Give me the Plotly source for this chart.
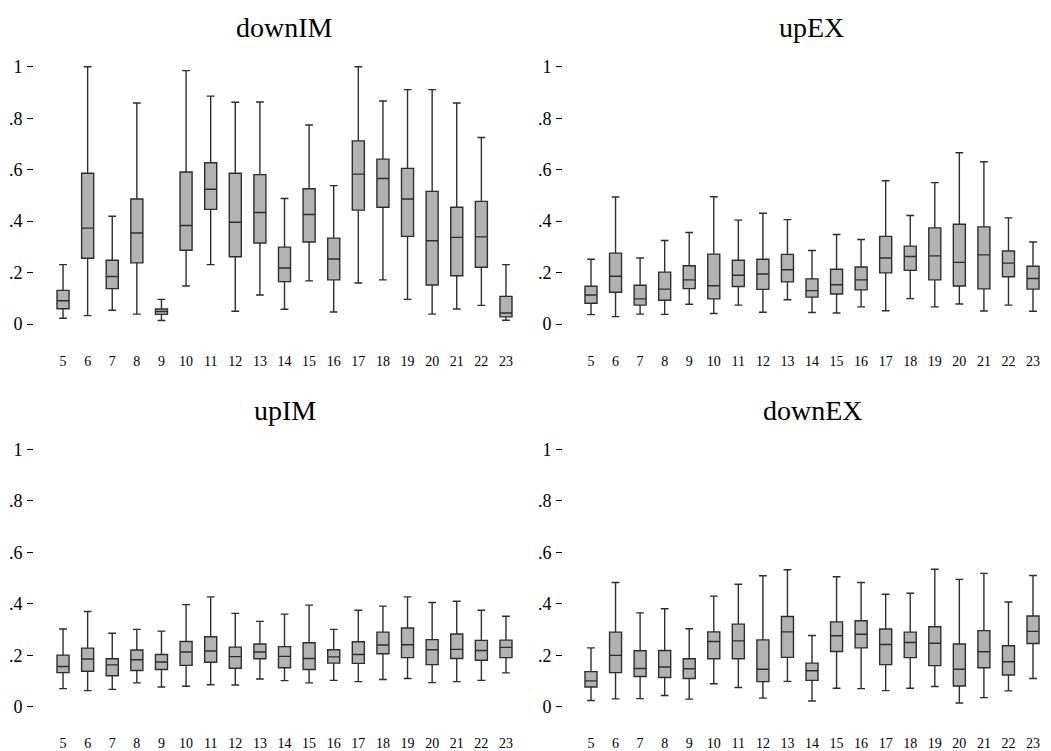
import plotly.graph_objects as go

categories = [5, 6, 7, 8, 9, 10, 11, 12, 13, 14, 15, 16, 17, 18, 19, 20, 21, 22, 23]
x_tick_labels = ["5", "6", "7", "8", "9", "10", "11", "12", "13", "14", "15",
                 "16", "17", "18", "19", "20", "21", "22", "23"]
y_tick_values = [0, 0.2, 0.4, 0.6, 0.8, 1]
y_tick_labels = ["0", ".2", ".4", ".6", ".8", "1"]

# downIM
downIM_lo = [0.023, 0.033, 0.054, 0.039, 0.014, 0.148, 0.231, 0.050, 0.113, 0.058,
             0.168, 0.047, 0.160, 0.172, 0.096, 0.039, 0.059, 0.073, 0.015]
downIM_q1 = [0.060, 0.256, 0.138, 0.238, 0.038, 0.287, 0.446, 0.262, 0.315, 0.165,
             0.319, 0.172, 0.443, 0.454, 0.341, 0.152, 0.188, 0.221, 0.028]
downIM_med = [0.091, 0.373, 0.185, 0.354, 0.049, 0.383, 0.524, 0.396, 0.434, 0.218,
              0.426, 0.253, 0.583, 0.566, 0.486, 0.324, 0.337, 0.339, 0.043]
downIM_q3 = [0.131, 0.586, 0.248, 0.486, 0.059, 0.591, 0.627, 0.586, 0.581, 0.299,
             0.526, 0.334, 0.712, 0.641, 0.605, 0.516, 0.454, 0.477, 0.108]
downIM_hi = [0.231, 1.000, 0.419, 0.859, 0.096, 0.985, 0.886, 0.862, 0.863, 0.488,
             0.774, 0.538, 1.000, 0.867, 0.911, 0.911, 0.859, 0.725, 0.231]

# upEX
upEX_lo = [0.037, 0.029, 0.039, 0.038, 0.077, 0.041, 0.074, 0.046, 0.095, 0.045,
           0.043, 0.067, 0.052, 0.099, 0.067, 0.078, 0.051, 0.074, 0.050]
upEX_q1 = [0.081, 0.124, 0.074, 0.093, 0.138, 0.098, 0.146, 0.135, 0.164, 0.105,
           0.117, 0.133, 0.199, 0.209, 0.172, 0.148, 0.137, 0.184, 0.136]
upEX_med = [0.113, 0.186, 0.098, 0.136, 0.172, 0.149, 0.190, 0.195, 0.211, 0.130,
            0.153, 0.172, 0.257, 0.263, 0.265, 0.240, 0.269, 0.237, 0.177]
upEX_q3 = [0.147, 0.276, 0.151, 0.202, 0.227, 0.272, 0.248, 0.252, 0.271, 0.176,
           0.213, 0.222, 0.341, 0.303, 0.374, 0.388, 0.378, 0.284, 0.225]
upEX_hi = [0.252, 0.494, 0.257, 0.325, 0.356, 0.495, 0.404, 0.431, 0.406, 0.286,
           0.348, 0.329, 0.557, 0.422, 0.550, 0.666, 0.631, 0.413, 0.319]

# upIM
upIM_lo = [0.071, 0.063, 0.068, 0.093, 0.077, 0.080, 0.086, 0.085, 0.108, 0.102,
           0.093, 0.103, 0.098, 0.106, 0.110, 0.094, 0.098, 0.103, 0.132]
upIM_q1 = [0.133, 0.138, 0.121, 0.141, 0.145, 0.161, 0.173, 0.150, 0.187, 0.152,
           0.145, 0.170, 0.169, 0.206, 0.191, 0.164, 0.188, 0.181, 0.191]
upIM_med = [0.157, 0.186, 0.163, 0.183, 0.174, 0.213, 0.217, 0.195, 0.213, 0.196,
            0.188, 0.194, 0.203, 0.240, 0.241, 0.222, 0.223, 0.219, 0.231]
upIM_q3 = [0.201, 0.228, 0.187, 0.221, 0.203, 0.254, 0.272, 0.232, 0.244, 0.234,
           0.249, 0.222, 0.253, 0.290, 0.306, 0.261, 0.283, 0.258, 0.259]
upIM_hi = [0.302, 0.370, 0.286, 0.301, 0.294, 0.397, 0.427, 0.363, 0.332, 0.360,
           0.395, 0.301, 0.375, 0.391, 0.427, 0.405, 0.410, 0.375, 0.352]

# downEX
downEX_lo = [0.025, 0.031, 0.032, 0.044, 0.030, 0.090, 0.075, 0.034, 0.099, 0.023,
             0.072, 0.071, 0.063, 0.072, 0.079, 0.015, 0.036, 0.062, 0.110]
downEX_q1 = [0.077, 0.133, 0.118, 0.114, 0.110, 0.187, 0.187, 0.098, 0.192, 0.103,
             0.215, 0.229, 0.164, 0.191, 0.160, 0.081, 0.152, 0.124, 0.246]
downEX_med = [0.101, 0.200, 0.149, 0.155, 0.148, 0.254, 0.256, 0.146, 0.291, 0.140,
              0.276, 0.282, 0.242, 0.250, 0.247, 0.146, 0.214, 0.175, 0.293]
downEX_q3 = [0.137, 0.290, 0.218, 0.219, 0.187, 0.291, 0.321, 0.260, 0.351, 0.170,
             0.330, 0.334, 0.302, 0.290, 0.311, 0.244, 0.296, 0.237, 0.353]
downEX_hi = [0.229, 0.483, 0.365, 0.381, 0.303, 0.430, 0.476, 0.509, 0.532, 0.277,
             0.505, 0.483, 0.437, 0.441, 0.534, 0.495, 0.518, 0.407, 0.510]

panel_titles = ["downIM", "upEX", "upIM", "downEX"]

W, H = 1051, 751
FONT = "Liberation Serif"

panels = [
    (downIM_lo, downIM_q1, downIM_med, downIM_q3, downIM_hi),
    (upEX_lo, upEX_q1, upEX_med, upEX_q3, upEX_hi),
    (upIM_lo, upIM_q1, upIM_med, upIM_q3, upIM_hi),
    (downEX_lo, downEX_q1, downEX_med, downEX_q3, downEX_hi),
]

# pixel geometry of plot areas (left, right) and (top, bottom)
x_px = [(34, 520), (563, 1048), (34, 520), (563, 1048)]
y_px = [(56.7, 346.1), (56.7, 346.1), (440.7, 730.4), (440.7, 730.4)]
x_ranges = [(3.82, 23.57), (3.86, 23.61), (3.82, 23.57), (3.86, 23.61)]
y_range = (-0.08, 1.04)
title_pos = [(284.5, 28), (811, 28), (285, 412), (812.5, 412)]

fig = go.Figure()
layout = dict(
    width=W, height=H,
    margin=dict(l=0, r=0, t=0, b=0),
    paper_bgcolor="white", plot_bgcolor="white",
    showlegend=False,
    font=dict(family=FONT, color="black"),
)
annotations = []
for i, (lo, q1, med, q3, hi) in enumerate(panels):
    n = "" if i == 0 else str(i + 1)
    fig.add_trace(go.Box(
        x=categories, q1=q1, median=med, q3=q3,
        lowerfence=lo, upperfence=hi,
        xaxis="x" + n, yaxis="y" + n,
        width=0.49, whiskerwidth=0.65,
        fillcolor="#b2b2b2",
        line=dict(color="#2e2e2e", width=1.4),
        boxpoints=False, showlegend=False,
    ))
    xl, xr = x_px[i]
    yt, yb = y_px[i]
    layout["xaxis" + n] = dict(
        domain=[xl / W, xr / W], range=list(x_ranges[i]),
        anchor="y" + n, tickmode="array", tickvals=categories,
        ticktext=x_tick_labels, showgrid=False, zeroline=False,
        showline=False, ticks="outside", ticklen=3,
        tickcolor="rgba(0,0,0,0)", tickfont=dict(family=FONT, size=14),
    )
    layout["yaxis" + n] = dict(
        domain=[1 - yb / H, 1 - yt / H], range=list(y_range),
        anchor="x" + n, tickmode="array", tickvals=y_tick_values,
        ticktext=y_tick_labels, showgrid=False, zeroline=False,
        showline=False, ticks="outside", ticklen=6, tickwidth=1,
        tickcolor="black", ticklabelstandoff=1,
        tickfont=dict(family=FONT, size=18),
    )
    tx, ty = title_pos[i]
    annotations.append(dict(
        text=panel_titles[i], x=tx / W, y=1 - ty / H, xref="paper", yref="paper",
        xanchor="center", yanchor="middle", showarrow=False,
        font=dict(family=FONT, size=28, color="black"),
    ))
layout["annotations"] = annotations
fig.update_layout(**layout)
fig.write_html(
    "out.html",
    config={"displayModeBar": False},
    post_script="document.body.style.margin='0px';document.body.style.padding='0px';",
)
